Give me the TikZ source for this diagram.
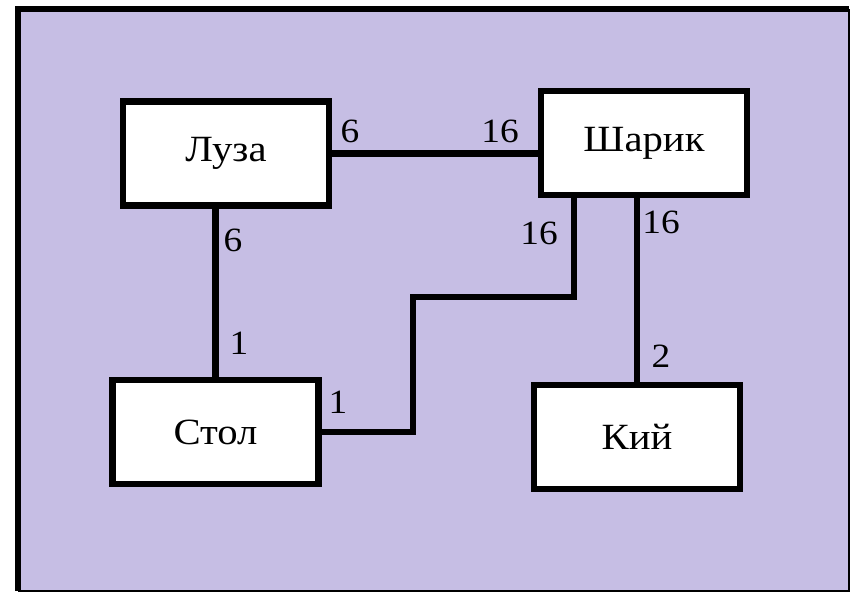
\documentclass[tikz,border=0pt]{standalone}
\usepackage{fontspec}
\setmainfont[FakeStretch=1.1]{Liberation Serif}
\usepackage{tikz}
\usetikzlibrary{positioning, calc}
\definecolor{lavender}{RGB}{198,190,228}
\tikzset{
    entity/.style={draw, fill=white, line width=6.5pt, minimum width=206pt, minimum height=104pt, inner sep=0pt, font=\fontsize{37}{40}\selectfont},
    link/.style={draw=black, line width=6.5pt},
    card/.style={inner sep=0pt, font=\fontsize{34}{38}\selectfont}
}

\begin{document}
\begin{tikzpicture}[x=1pt, y=-1pt]
    \useasboundingbox (0,0) rectangle (852,592);
    \fill[lavender] (18,9) rectangle (849,591);
    \draw[line width=1.5pt] (18,591) -- (849,591) -- (849,9);
    \draw[line width=6.5pt] (18,591) -- (18,9) -- (849,9);
    % entities
    \node[entity] (luza) at (226,153.5) {Луза};
    \node[entity] (sharik) at (644,143) {Шарик};
    \node[entity] (stol) at (215.5,432) {Стол};
    \node[entity] (kiy) at (637,437) {Кий};
    % links
    \coordinate (jog) at (413,297);
    \draw[link] (luza.east) -- (luza.east -| sharik.west);
    \draw[link] (stol.north) -- (stol.north |- luza.south);
    \draw[link] (kiy.north) -- (kiy.north |- sharik.south);
    \draw[link] ([xshift=-70pt]sharik.south) |- (jog) |- (stol.east);
    % multiplicities
    \node[card] (m1) at (350,131) {6};
    \node[card] (m2) at (500,131) {16};
    \node[card] (m3) at (233,240) {6};
    \node[card] (m4) at (239,343) {1};
    \node[card] (m5) at (338,402) {1};
    \node[card] (m6) at (539,233) {16};
    \node[card] (m7) at (661,222) {16};
    \node[card] (m8) at (661,356) {2};
\end{tikzpicture}
\end{document}
